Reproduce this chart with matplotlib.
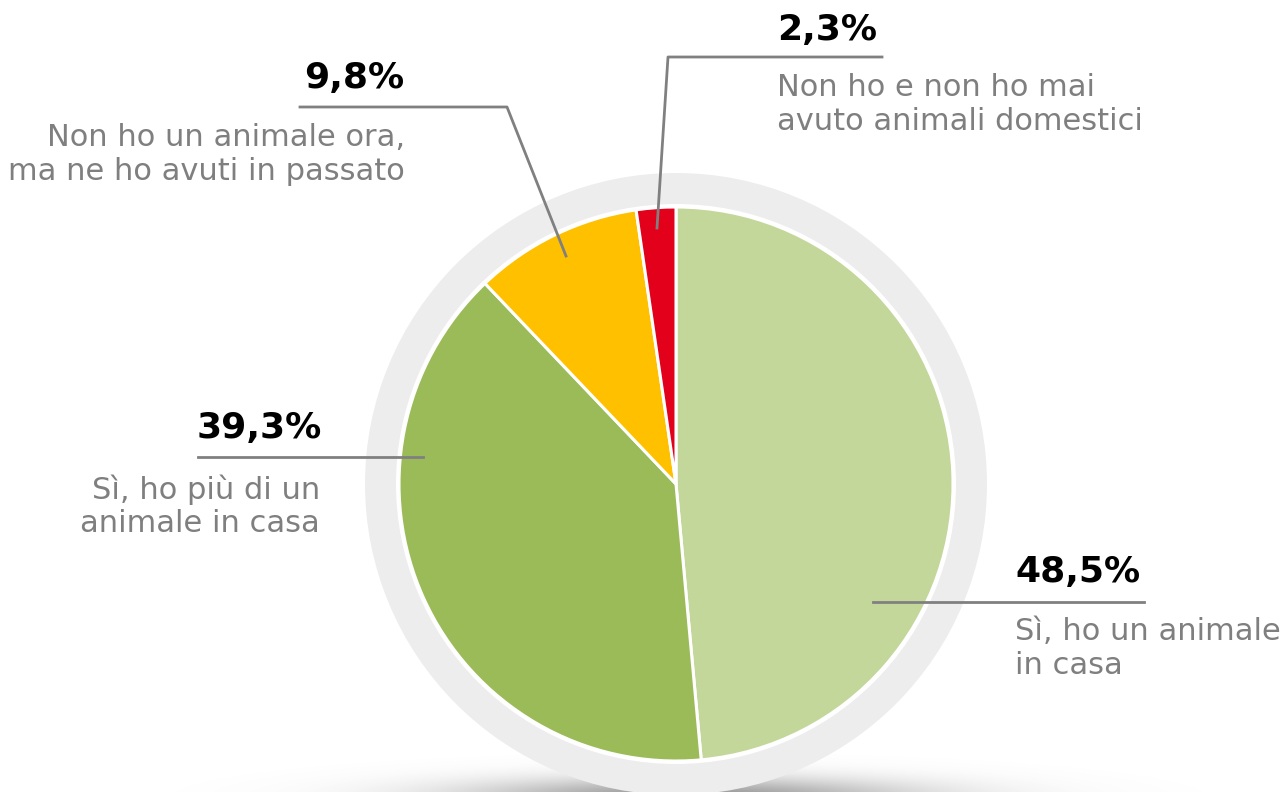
import numpy as np
import matplotlib
matplotlib.use("Agg")
import matplotlib.pyplot as plt
from matplotlib.patches import Circle

# ---- data ----
categories = ["Sì, ho un animale\nin casa",
              "Sì, ho più di un\nanimale in casa",
              "Non ho un animale ora,\nma ne ho avuti in passato",
              "Non ho e non ho mai\navuto animali domestici"]
values = [48.5, 39.3, 9.8, 2.3]
value_labels = ["48,5%", "39,3%", "9,8%", "2,3%"]
colors = ["#C4D79B", "#9BBB59", "#FFC000", "#E2001A"]

W, H = 1284, 792
fig = plt.figure(figsize=(W / 100, H / 100), dpi=100)
ax = fig.add_axes([0, 0, 1, 1])
ax.set_xlim(0, W)
ax.set_ylim(0, H)
ax.set_aspect("equal")
ax.axis("off")

def py(y):  # pixel-from-top -> data y
    return H - y

cx, cy = 676, py(484)
R = 277

# soft shadow at bottom (behind ring)
xs = np.linspace(0, W, 600)
ys = np.linspace(0, 80, 80)
X, Y = np.meshgrid(xs, ys)
Yp = H - Y  # pixel from top
alpha = 0.75 * np.exp(-((X - 690) / 160) ** 2 / 2) * np.exp(-((Yp - 798) / 14) ** 2 / 2)
img = np.zeros(X.shape + (4,))
img[..., :3] = 0.45
img[..., 3] = alpha
ax.imshow(img, extent=(0, W, 0, 80), origin="lower", zorder=0.5, aspect="auto")

# outer ring
ax.add_patch(Circle((cx, cy), 311, facecolor="#EDEDED", edgecolor="none", zorder=1))

ax.add_patch(Circle((cx, cy), R + 3, facecolor="white", edgecolor="none", zorder=3))
wedges, _ = ax.pie(values, colors=colors, startangle=90, counterclock=False,
                   center=(cx, cy), radius=R, normalize=True,
                   wedgeprops=dict(edgecolor="white", linewidth=2.2),
                   frame=True)
for w in wedges:
    w.set_zorder(4)
ax.set_xlim(0, W)
ax.set_ylim(0, H)
ax.axis("off")

lc = "#808080"
tc = "#7F7F7F"
bfs = 26
fs = 22

# 48,5%
ax.plot([873, 1144], [py(602), py(602)], color=lc, lw=2, zorder=6)
ax.text(1015, py(572), value_labels[0], fontsize=bfs, fontweight="bold", ha="left", va="center", color="black")
for i, line in enumerate(categories[0].split("\n")):
    ax.text(1015, py(632 + 34 * i), line, fontsize=fs, ha="left", va="center", color=tc)

# 39,3%
ax.plot([198, 423], [py(457), py(457)], color=lc, lw=2, zorder=6)
ax.text(322, py(428), value_labels[1], fontsize=bfs, fontweight="bold", ha="right", va="center", color="black")
for i, line in enumerate(categories[1].split("\n")):
    ax.text(320, py(490 + 34 * i), line, fontsize=fs, ha="right", va="center", color=tc)

# 9,8%
ax.plot([566, 507, 300], [py(256), py(107), py(107)], color=lc, lw=2, zorder=6)
ax.text(404, py(78), value_labels[2], fontsize=bfs, fontweight="bold", ha="right", va="center", color="black")
for i, line in enumerate(categories[2].split("\n")):
    ax.text(405, py(137 + 35 * i), line, fontsize=fs, ha="right", va="center", color=tc)

# 2,3%
ax.plot([657, 668, 882], [py(228), py(57), py(57)], color=lc, lw=2, zorder=6)
ax.text(777, py(30), value_labels[3], fontsize=bfs, fontweight="bold", ha="left", va="center", color="black")
for i, line in enumerate(categories[3].split("\n")):
    ax.text(777, py(88 + 34 * i), line, fontsize=fs, ha="left", va="center", color=tc)

fig.savefig("out.png", dpi=100, facecolor="white")
